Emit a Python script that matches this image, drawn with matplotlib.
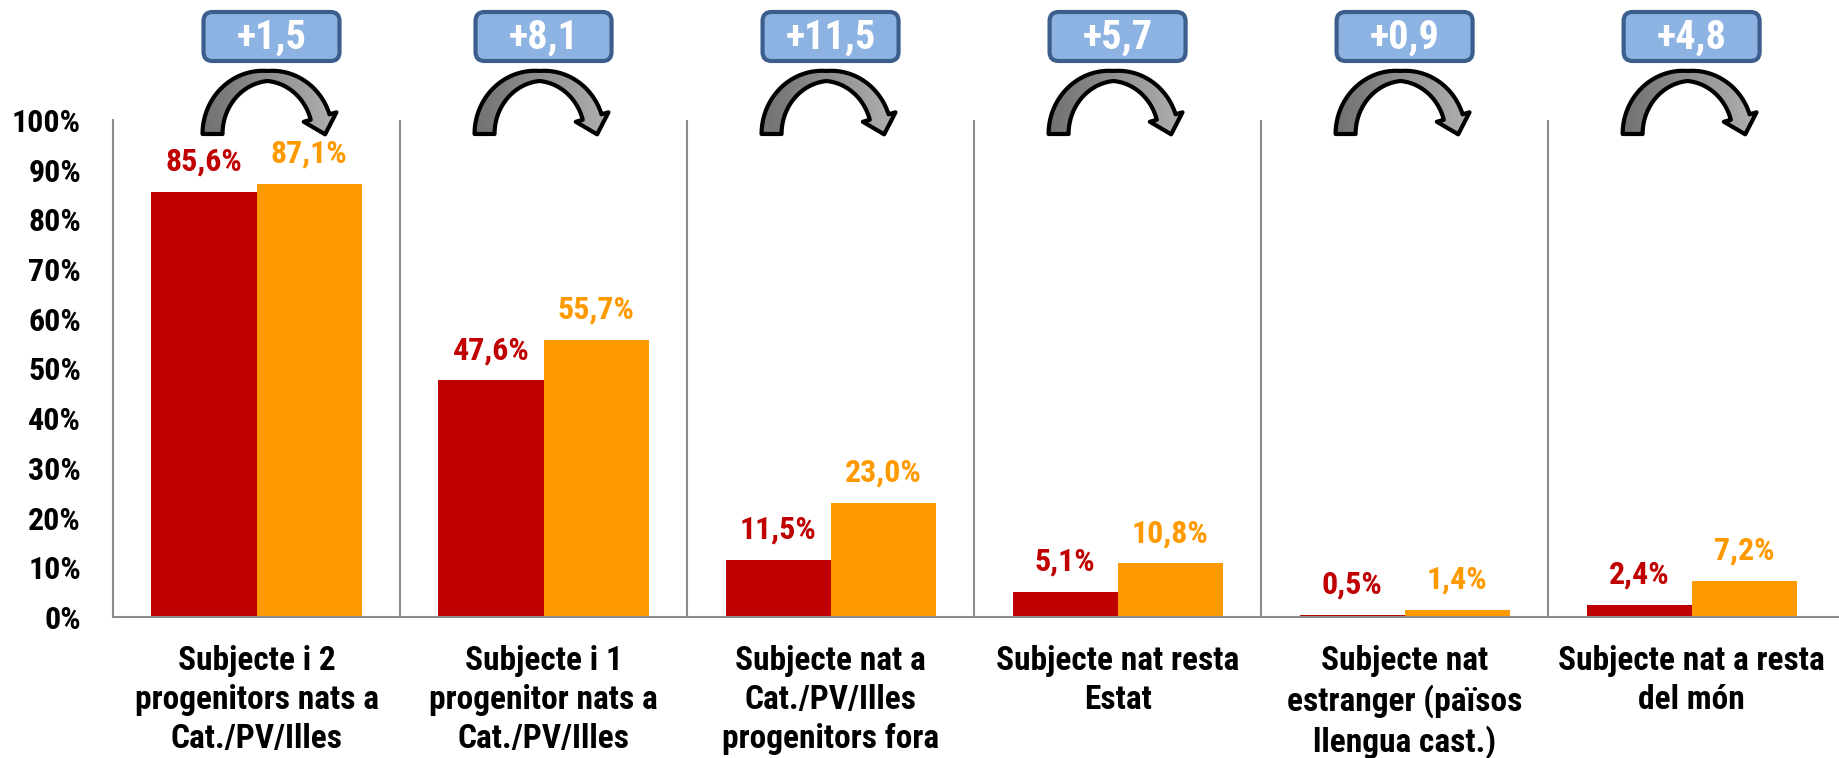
import numpy as np
import matplotlib
matplotlib.use("Agg")
import matplotlib.pyplot as plt
from matplotlib import font_manager
from matplotlib.patches import FancyBboxPatch, Polygon

# Data
categories = [
    "Subjecte i 2\nprogenitors nats a\nCat./PV/Illes",
    "Subjecte i 1\nprogenitor nats a\nCat./PV/Illes",
    "Subjecte nat a\nCat./PV/Illes\nprogenitors fora",
    "Subjecte nat resta\nEstat",
    "Subjecte nat\nestranger (països\nllengua cast.)",
    "Subjecte nat a resta\ndel món",
]
before = [85.6, 47.6, 11.5, 5.1, 0.5, 2.4]
after = [87.1, 55.7, 23.0, 10.8, 1.4, 7.2]
yticks = [0, 10, 20, 30, 40, 50, 60, 70, 80, 90, 100]

RED = "#C00000"
ORANGE = "#FF9900"
GRID = "#8C8C8C"

# pick a narrow bold font if there is one
names = {f.name for f in font_manager.fontManager.ttflist}
fam = [n for n in ["Liberation Sans Narrow", "Roboto Condensed", "Liberation Sans"] if n in names]
fam = fam + ["DejaVu Sans"]
plt.rcParams["font.family"] = fam
plt.rcParams["font.weight"] = "bold"


def pct(v):
    return f"{v:.1f}".replace(".", ",") + "%"


W, H = 1839, 758
fig = plt.figure(figsize=(W / 100, H / 100), dpi=100)
ax = fig.add_axes([113 / W, 141 / H, 1725 / W, 497 / H])

x = np.arange(len(categories))
bw = 0.366
ax.bar(x - bw / 2, before, bw, color=RED)
ax.bar(x + bw / 2, after, bw, color=ORANGE)

for i in range(len(categories)):
    ax.annotate(pct(before[i]), (x[i] - bw / 2, before[i]), xytext=(0, 11),
                textcoords="offset points", ha="center", va="bottom",
                color=RED, fontsize=23, fontweight="bold")
    ax.annotate(pct(after[i]), (x[i] + bw / 2, after[i]), xytext=(0, 11),
                textcoords="offset points", ha="center", va="bottom",
                color=ORANGE, fontsize=23, fontweight="bold")

for b in x[:-1] + 0.5:
    ax.axvline(b, color=GRID, lw=1.5)

ax.set_xlim(-0.5, 5.51)
ax.set_ylim(0, 100)
ax.set_yticks(yticks)
ax.set_yticklabels([f"{t}%" for t in yticks], fontsize=23, fontweight="bold")
ax.set_xticks(x)
ax.set_xticklabels(categories, fontsize=24, fontweight="bold", linespacing=1.28,
                   va="top")
ax.tick_params(axis="y", length=0, pad=23)
ax.tick_params(axis="x", length=0, pad=20)
for s in ["top", "right"]:
    ax.spines[s].set_visible(False)
for s in ["left", "bottom"]:
    ax.spines[s].set_color(GRID)
    ax.spines[s].set_linewidth(1.5)

# overlay in pixel coordinates for the badges and curved arrows
ov = fig.add_axes([0, 0, 1, 1])
ov.set_xlim(0, W)
ov.set_ylim(H, 0)
ov.axis("off")
fig.canvas.draw()

grad = np.linspace(0, 1, 64).reshape(1, -1)
cmap = matplotlib.colors.LinearSegmentedColormap.from_list("g", ["#707070", "#b3b3b3"])

for i in range(len(categories)):
    cx = ax.transData.transform((x[i], 0))[0]
    if i == 0:
        cx += 15
    diff = after[i] - before[i]

    box = FancyBboxPatch((cx - 64, 16), 128, 41, boxstyle="round,pad=4,rounding_size=9",
                         fc="#8DB3E2", ec="#3B5E8C", lw=3)
    ov.add_patch(box)
    ov.text(cx, 38, "+" + f"{diff:.1f}".replace(".", ","), ha="center", va="center",
            color="white", fontsize=29, fontweight="bold")

    # curved arrow: band thicker on the sides than on top
    x0, y0 = cx - 4, 134
    rxm, rym = 55, 58
    th = np.radians(np.linspace(180, 17, 80))
    t = 10 + 10 * np.abs(np.cos(th))
    mid = np.c_[x0 + rxm * np.cos(th), y0 - rym * np.sin(th)]
    nrm = np.c_[rym * np.cos(th), -rxm * np.sin(th)]
    nrm = nrm / np.linalg.norm(nrm, axis=1)[:, None]
    outer = mid + nrm * (t / 2)[:, None]
    inner = mid - nrm * (t / 2)[:, None]
    te = th[-1]
    M = mid[-1]
    T = np.array([rxm * np.sin(te), rym * np.cos(te)])
    T = T / np.linalg.norm(T)
    N = np.array([T[1], -T[0]])
    head = [M + N * 17, M + T * 18, M - N * 17]
    pts = np.vstack([outer, head, inner[::-1]])
    poly = Polygon(pts, closed=True, fc="none", ec="black", lw=3, joinstyle="round")
    im = ov.imshow(grad, cmap=cmap, extent=[cx - 72, cx + 72, 140, 68], aspect="auto")
    clip = Polygon(pts, closed=True, transform=ov.transData)
    im.set_clip_path(clip)
    ov.add_patch(poly)

ov.set_xlim(0, W)
ov.set_ylim(H, 0)

fig.savefig("out.png", dpi=100)
